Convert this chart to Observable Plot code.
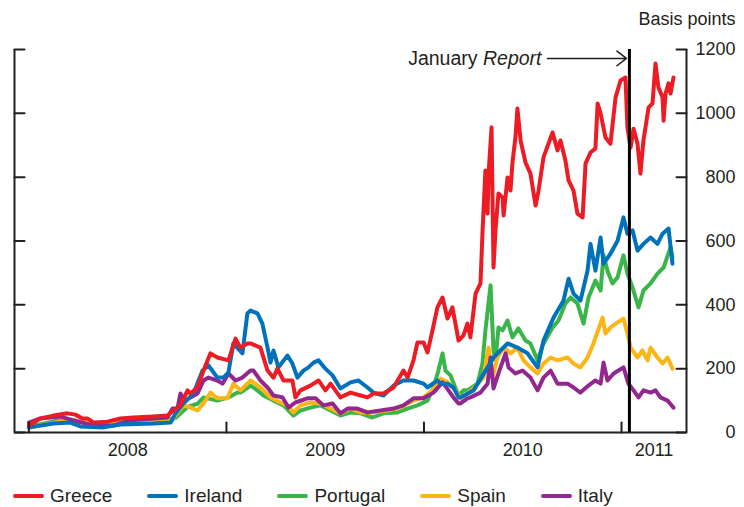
<!DOCTYPE html>
<html><head><meta charset="utf-8">
<script src="https://cdn.jsdelivr.net/npm/d3@7"></script>
<script src="https://cdn.jsdelivr.net/npm/@observablehq/plot@0.6"></script>
<style>
body{margin:0;background:#fff;font-family:"Liberation Sans",Arial,Helvetica,sans-serif;color:#231f20}
#chart svg{display:block}
#legend{display:flex;gap:35px;padding-left:13px;height:36px;align-items:center;font-size:19px;color:#231f20}
.item{display:flex;align-items:center}
.sw{width:31px;height:4px;margin-right:6px;border-radius:2px}
</style></head><body><div id="chart"></div><div id="legend"></div>
<script>
// Decimal-year time, basis points
const greece = [[2008.00,22],[2008.058,44],[2008.124,53],[2008.195,60],[2008.235,56],[2008.271,44],[2008.296,44],[2008.327,31],[2008.398,34],[2008.463,44],[2008.529,47],[2008.630,50],[2008.701,53],[2008.732,69],[2008.767,85],[2008.803,132],[2008.818,122],[2008.853,141],[2008.884,194],[2008.919,248],[2008.954,235],[2009.010,226],[2009.046,294],[2009.071,266],[2009.106,279],[2009.122,279],[2009.172,266],[2009.208,194],[2009.238,172],[2009.258,200],[2009.289,163],[2009.334,163],[2009.349,110],[2009.375,132],[2009.425,147],[2009.466,163],[2009.501,132],[2009.527,153],[2009.577,110],[2009.628,125],[2009.679,116],[2009.714,110],[2009.744,122],[2009.795,122],[2009.846,141],[2009.896,194],[2009.917,172],[2009.947,226],[2009.967,282],[2009.998,282],[2010.018,251],[2010.043,320],[2010.068,392],[2010.094,423],[2010.119,357],[2010.144,392],[2010.175,288],[2010.200,304],[2010.220,341],[2010.235,298],[2010.261,435],[2010.286,467],[2010.296,623],[2010.311,821],[2010.322,686],[2010.327,811],[2010.342,956],[2010.352,517],[2010.362,633],[2010.377,749],[2010.398,736],[2010.403,680],[2010.423,799],[2010.438,758],[2010.448,846],[2010.463,924],[2010.473,1015],[2010.489,915],[2010.514,846],[2010.539,811],[2010.565,711],[2010.580,758],[2010.605,862],[2010.651,940],[2010.676,884],[2010.691,915],[2010.716,852],[2010.732,790],[2010.757,758],[2010.777,686],[2010.803,674],[2010.818,843],[2010.843,877],[2010.868,890],[2010.879,1031],[2010.894,1000],[2010.919,924],[2010.944,905],[2010.970,1050],[2010.995,1103],[2011.020,1112],[2011.030,956],[2011.046,893],[2011.061,952],[2011.081,905],[2011.096,811],[2011.111,915],[2011.137,1018],[2011.157,1031],[2011.172,1156],[2011.187,1081],[2011.208,1050],[2011.213,977],[2011.223,1062],[2011.238,1094],[2011.248,1062],[2011.263,1112]];
const ireland = [[2008.00,16],[2008.124,28],[2008.210,31],[2008.261,19],[2008.377,16],[2008.463,25],[2008.630,28],[2008.717,31],[2008.742,60],[2008.782,91],[2008.833,122],[2008.879,194],[2008.909,210],[2008.954,172],[2008.985,172],[2009.010,188],[2009.035,279],[2009.081,248],[2009.106,373],[2009.122,382],[2009.157,373],[2009.182,341],[2009.208,266],[2009.223,219],[2009.238,257],[2009.263,204],[2009.309,241],[2009.334,216],[2009.359,172],[2009.390,194],[2009.415,204],[2009.441,219],[2009.466,226],[2009.501,200],[2009.537,179],[2009.577,138],[2009.628,157],[2009.668,163],[2009.714,141],[2009.744,125],[2009.795,116],[2009.846,147],[2009.896,163],[2009.947,163],[2009.998,153],[2010.018,141],[2010.068,163],[2010.084,153],[2010.119,153],[2010.149,141],[2010.175,110],[2010.185,110],[2010.251,132],[2010.322,204],[2010.352,235],[2010.387,257],[2010.423,279],[2010.473,266],[2010.524,248],[2010.575,204],[2010.605,288],[2010.656,360],[2010.706,413],[2010.732,482],[2010.757,435],[2010.792,413],[2010.828,507],[2010.843,591],[2010.868,507],[2010.894,611],[2010.909,529],[2010.944,560],[2010.980,601],[2011.010,674],[2011.030,623],[2011.056,633],[2011.081,570],[2011.111,591],[2011.147,611],[2011.182,591],[2011.208,623],[2011.238,639],[2011.258,529]];
const portugal = [[2008.00,18],[2008.124,35],[2008.210,40],[2008.311,28],[2008.463,32],[2008.666,38],[2008.742,45],[2008.803,80],[2008.853,90],[2008.884,110],[2008.954,100],[2009.010,110],[2009.056,125],[2009.071,125],[2009.122,147],[2009.157,132],[2009.187,116],[2009.238,100],[2009.289,85],[2009.339,53],[2009.375,69],[2009.425,78],[2009.476,85],[2009.527,69],[2009.577,53],[2009.628,63],[2009.679,60],[2009.739,47],[2009.795,60],[2009.866,63],[2009.917,75],[2009.967,85],[2010.018,100],[2010.048,141],[2010.073,194],[2010.094,248],[2010.109,194],[2010.134,179],[2010.144,163],[2010.175,116],[2010.200,132],[2010.220,132],[2010.271,153],[2010.296,216],[2010.311,320],[2010.337,461],[2010.352,257],[2010.362,226],[2010.377,329],[2010.398,320],[2010.423,351],[2010.448,298],[2010.478,326],[2010.514,288],[2010.539,279],[2010.575,226],[2010.605,279],[2010.651,329],[2010.681,351],[2010.716,404],[2010.742,423],[2010.777,404],[2010.808,341],[2010.833,423],[2010.868,476],[2010.894,445],[2010.909,555],[2010.929,507],[2010.954,467],[2010.980,486],[2011.010,555],[2011.030,498],[2011.056,454],[2011.086,392],[2011.111,445],[2011.147,467],[2011.182,498],[2011.213,517],[2011.248,580],[2011.258,548]];
const spain = [[2008.00,15],[2008.124,30],[2008.210,40],[2008.311,30],[2008.463,28],[2008.666,33],[2008.727,40],[2008.752,63],[2008.782,85],[2008.818,78],[2008.853,69],[2008.884,91],[2008.919,125],[2008.954,107],[2009.005,107],[2009.035,153],[2009.071,132],[2009.122,163],[2009.172,141],[2009.223,110],[2009.273,94],[2009.309,85],[2009.339,63],[2009.375,85],[2009.425,94],[2009.476,91],[2009.527,75],[2009.577,60],[2009.628,75],[2009.679,63],[2009.744,63],[2009.815,69],[2009.881,78],[2009.947,100],[2009.998,110],[2010.043,132],[2010.084,169],[2010.119,158],[2010.160,132],[2010.185,107],[2010.251,138],[2010.301,172],[2010.327,266],[2010.347,172],[2010.372,235],[2010.403,266],[2010.438,248],[2010.473,266],[2010.504,226],[2010.539,204],[2010.575,185],[2010.605,216],[2010.641,235],[2010.676,226],[2010.727,235],[2010.757,216],[2010.792,204],[2010.828,235],[2010.858,279],[2010.904,360],[2010.919,310],[2010.944,329],[2010.980,345],[2011.010,357],[2011.030,310],[2011.046,266],[2011.081,235],[2011.106,257],[2011.132,226],[2011.147,266],[2011.182,235],[2011.208,216],[2011.233,235],[2011.258,200]];
const italy = [[2008.00,31],[2008.058,44],[2008.160,50],[2008.225,38],[2008.327,22],[2008.428,22],[2008.514,38],[2008.630,44],[2008.701,47],[2008.727,75],[2008.752,75],[2008.767,122],[2008.792,100],[2008.818,110],[2008.853,122],[2008.884,163],[2008.909,172],[2008.954,163],[2008.980,153],[2009.010,185],[2009.046,163],[2009.081,172],[2009.122,194],[2009.137,194],[2009.172,163],[2009.208,141],[2009.238,116],[2009.284,110],[2009.314,78],[2009.349,94],[2009.410,107],[2009.451,107],[2009.491,85],[2009.537,91],[2009.577,60],[2009.613,75],[2009.663,75],[2009.714,63],[2009.780,69],[2009.846,75],[2009.896,85],[2009.947,107],[2009.998,107],[2010.048,125],[2010.094,157],[2010.124,132],[2010.149,110],[2010.175,91],[2010.185,91],[2010.220,107],[2010.235,110],[2010.286,125],[2010.322,153],[2010.337,235],[2010.352,138],[2010.377,185],[2010.413,248],[2010.428,204],[2010.463,185],[2010.499,194],[2010.539,172],[2010.575,132],[2010.605,172],[2010.641,194],[2010.676,153],[2010.727,153],[2010.757,141],[2010.792,125],[2010.833,147],[2010.868,163],[2010.894,153],[2010.909,219],[2010.929,163],[2010.960,185],[2011.010,204],[2011.035,153],[2011.061,132],[2011.086,110],[2011.111,132],[2011.147,125],[2011.172,132],[2011.197,110],[2011.233,100],[2011.263,78]];

const seriesNames = ["Greece","Ireland","Portugal","Spain","Italy"];
const seriesColors = ["#ed1c24","#0072bc","#3ab54a","#fdb515","#92278f"];
const drawOrder = ["Portugal","Spain","Italy","Ireland","Greece"];
const seriesData = {Greece: greece, Ireland: ireland, Portugal: portugal, Spain: spain, Italy: italy};
const yTicks = [0,200,400,600,800,1000,1200];
const years = [2008,2009,2010,2011];
const xDomain = [2007.927, 2011.329];
const yDomain = [0, 1200];
const reportDate = 2011.04;
const annotation = {level: 1172, arrowStart: 2010.625, arrowEnd: 2011.025, labelX: 2010.595};

const rows = drawOrder.flatMap(s => seriesData[s].map(([t, v]) => ({series: s, t, v})));
const yearTicks = years.filter(y => y > xDomain[0] && y < xDomain[1]);
const yearLabels = years.map(y => ({label: String(y), mid: (Math.max(y, xDomain[0]) + Math.min(y + 1, xDomain[1])) / 2}));
const tickShape = {draw(ctx, l) { ctx.moveTo(0, 0); ctx.lineTo(0, -l); }};
const ink = "#231f20";

const chart = Plot.plot({
  width: 744, height: 478,
  marginLeft: 14, marginRight: 58, marginTop: 49, marginBottom: 46,
  style: {fontFamily: "'Liberation Sans', Arial, Helvetica, sans-serif", fontSize: "18px", color: ink, background: "white", overflow: "visible"},
  x: {type: "linear", domain: xDomain, axis: null},
  y: {domain: yDomain, axis: null},
  color: {domain: seriesNames, range: seriesColors},
  marks: [
    Plot.line(rows, {x: "t", y: "v", z: "series", stroke: "series", strokeWidth: 4, strokeLinejoin: "round", strokeLinecap: "round"}),
    Plot.ruleX(xDomain, {stroke: ink, strokeWidth: 2}),
    Plot.ruleY([0], {stroke: ink, strokeWidth: 2}),
    Plot.vector(yTicks, {x: () => xDomain[0], y: d => d, length: 10, rotate: 90, anchor: "start", shape: tickShape, stroke: ink, strokeWidth: 2}),
    Plot.vector(yTicks, {x: () => xDomain[1], y: d => d, length: 10, rotate: -90, anchor: "start", shape: tickShape, stroke: ink, strokeWidth: 2}),
    Plot.vector(yearTicks, {x: d => d, y: () => 0, length: 10, rotate: 0, anchor: "start", shape: tickShape, stroke: ink, strokeWidth: 2}),
    Plot.ruleX([reportDate], {stroke: "#000", strokeWidth: 3}),
    Plot.text(yearLabels, {x: "mid", y: () => 0, text: "label", dy: 18, fontSize: 18, fill: ink}),
    Plot.text(yTicks, {x: () => xDomain[1], y: d => d, text: d => String(d), dx: 49, textAnchor: "end", fontSize: 18, fill: ink}),
    Plot.text(["Basis points"], {x: () => xDomain[1], y: () => yDomain[1], text: d => d, dx: 49, dy: -30, textAnchor: "end", fontSize: 18, fill: ink}),
    Plot.text([annotation], {x: "labelX", y: "level", text: () => "January Report", textAnchor: "end", fontSize: 19.5, fill: ink}),
    Plot.arrow([annotation], {x1: "arrowStart", x2: "arrowEnd", y1: "level", y2: "level", bend: 0, headLength: 12, headAngle: 75, stroke: ink, strokeWidth: 1.5})
  ]
});
document.getElementById("chart").appendChild(chart);

// Italicize "Report" in the annotation
chart.querySelectorAll("text").forEach(el => {
  if (el.textContent === "January Report") {
    el.textContent = "January ";
    const ts = document.createElementNS("http://www.w3.org/2000/svg", "tspan");
    ts.setAttribute("font-style", "italic");
    ts.textContent = "Report";
    el.appendChild(ts);
  }
});

const legend = document.getElementById("legend");
seriesNames.forEach((s, i) => {
  const item = document.createElement("div");
  item.className = "item";
  const sw = document.createElement("span");
  sw.className = "sw";
  sw.style.background = seriesColors[i];
  const lab = document.createElement("span");
  lab.textContent = s;
  item.appendChild(sw); item.appendChild(lab);
  legend.appendChild(item);
});
</script></body></html>
